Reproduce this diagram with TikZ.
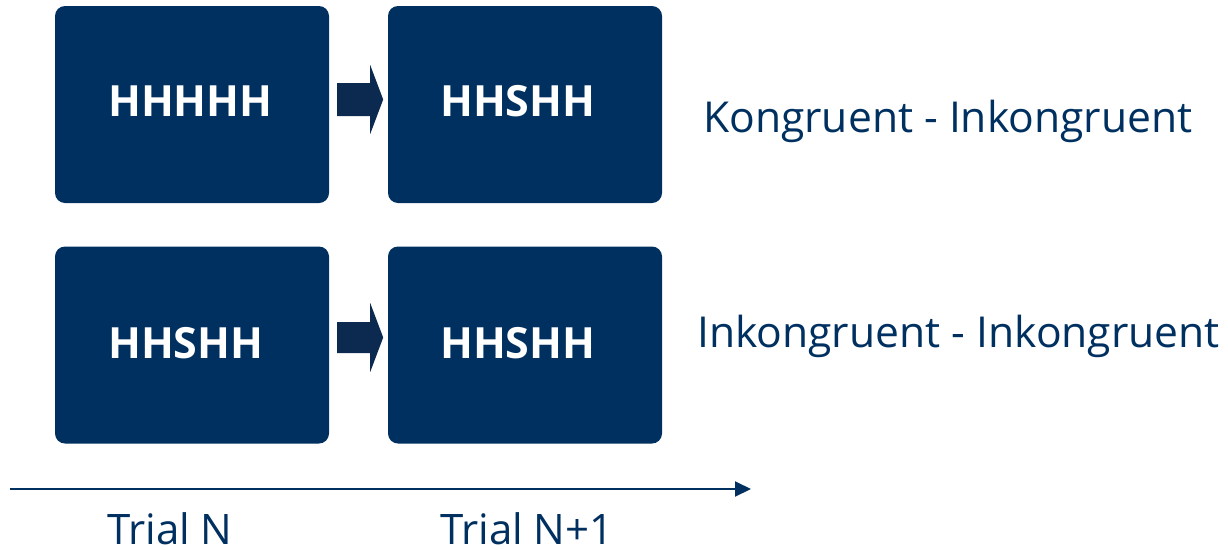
\documentclass[tikz,border=0pt]{standalone}
\usepackage{fontspec}
\setmainfont{Open Sans}
\usetikzlibrary{arrows.meta}
\definecolor{navy}{HTML}{003060}
\definecolor{arrowc}{HTML}{0C2A50}
\begin{document}
\begin{tikzpicture}[x=1pt,y=-1pt,
  trialbox/.style={fill=navy,rounded corners=10pt,minimum width=274pt,minimum height=197pt,inner sep=0pt},
  boxtext/.style={text=white,font=\fontsize{43}{43}\selectfont\bfseries,inner sep=0pt,anchor=base west},
  lbl/.style={text=navy,font=\fontsize{42.6}{43}\selectfont,inner sep=0pt,anchor=base west},
]
\useasboundingbox (0,0) rectangle (1228,549);
\node[trialbox] (a1) at (192,104.5) {};
\node[trialbox] (b1) at (525,104.5) {};
\node[trialbox] (a2) at (192,345) {};
\node[trialbox] (b2) at (525,345) {};
\node[boxtext] (ta1) at (108,116) {HHHHH};
\node[boxtext] (tb1) at (440,116) {HHSHH};
\node[boxtext] (ta2) at (108,358) {HHSHH};
\node[boxtext] (tb2) at (440,358) {HHSHH};
% block arrows between boxes
\fill[arrowc] ([xshift=8pt,yshift=21.5pt]a1.east) -- ++(33,0) -- ++(0,-18) -- ++(13,34.5) -- ++(-13,34.5) -- ++(0,-18) -- ++(-33,0) -- cycle;
\fill[arrowc] ([xshift=8pt,yshift=23pt]a2.east) -- ++(33,0) -- ++(0,-19) -- ++(13,34.5) -- ++(-13,34.5) -- ++(0,-19) -- ++(-33,0) -- cycle;
\node[lbl] (t1) at (703,132) {Kongruent - Inkongruent};
\node[lbl] (t2) at (697,347) {Inkongruent - Inkongruent};
\coordinate (s) at (10,489);
\coordinate (e) at (751,489);
\draw[navy,line width=2pt,-{Triangle[length=16pt,width=15pt]}] (s) -- (e);
\node[lbl,font=\fontsize{42}{42}\selectfont] (n1) at (107,544) {Trial N};
\node[lbl,font=\fontsize{42}{42}\selectfont] (n2) at (440,544) {Trial N+1};
\end{tikzpicture}
\end{document}
